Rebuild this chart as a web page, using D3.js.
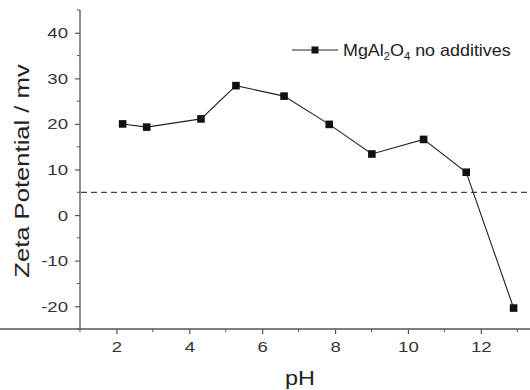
<!DOCTYPE html>
<html><head><meta charset="utf-8">
<script src="https://cdn.jsdelivr.net/npm/d3@7"></script>
<style>body{margin:0;background:#fff}svg{display:block;font-family:"Liberation Sans",Arial,sans-serif}</style>
</head><body><svg id="c" width="530" height="390"></svg>
<script>
const pH = [2.17, 2.83, 4.32, 5.28, 6.6, 7.84, 9.01, 10.43, 11.6, 12.9];
const zeta = [20.0, 19.3, 21.1, 28.4, 26.1, 19.9, 13.4, 16.6, 9.4, -20.4];
const xTicks = [2, 4, 6, 8, 10, 12];
const yTicks = [-20, -10, 0, 10, 20, 30, 40];
const refLine = 5;

const svg = d3.select("#c");
const x = d3.scaleLinear().domain([1, 13.35]).range([80, 530]);
const y = d3.scaleLinear().domain([-25, 45]).range([329, 10]);
const axisCol = "#555";

function stretch(sel, f) {
  sel.each(function () {
    const L = this.getComputedTextLength();
    d3.select(this).attr("textLength", L * f).attr("lengthAdjust", "spacingAndGlyphs");
  });
}

// minor ticks
const xMinor = d3.range(1, 14, 2);
const yMinor = d3.range(-25, 46, 10);
svg.append("g").selectAll("line").data(xMinor).join("line")
  .attr("x1", d => x(d)).attr("x2", d => x(d)).attr("y1", 329).attr("y2", 332)
  .attr("stroke", axisCol).attr("stroke-width", 1);
svg.append("g").selectAll("line").data(yMinor).join("line")
  .attr("y1", d => y(d)).attr("y2", d => y(d)).attr("x1", 80).attr("x2", 77)
  .attr("stroke", axisCol).attr("stroke-width", 1);

const fmt = d => String(d);
const xAxis = svg.append("g").attr("transform", "translate(0,329)")
  .call(d3.axisBottom(x).tickValues(xTicks).tickFormat(fmt).tickSize(5).tickPadding(7));
const yAxis = svg.append("g").attr("transform", "translate(80,0)")
  .call(d3.axisLeft(y).tickValues(yTicks).tickFormat(fmt).tickSize(5).tickPadding(7));
[xAxis, yAxis].forEach(a => {
  a.select(".domain").attr("stroke", axisCol).attr("stroke-width", 1.3);
  a.selectAll(".tick line").attr("stroke", axisCol).attr("stroke-width", 1.2);
  a.selectAll("text").attr("fill", "#333").style("font-size", "15.5px").call(stretch, 1.2);
});
yAxis.select(".domain").attr("d", "M0,10V329");
xAxis.select(".domain").attr("d", "M0,0H530");

// dashed reference line
svg.append("line").attr("x1", 81).attr("x2", 530).attr("y1", y(refLine)).attr("y2", y(refLine))
  .attr("stroke", "#444").attr("stroke-width", 1.2).attr("stroke-dasharray", "6,4");

const data = pH.map((v, i) => ({x: v, y: zeta[i]}));
svg.append("path").datum(data)
  .attr("d", d3.line().x(d => x(d.x)).y(d => y(d.y)))
  .attr("fill", "none").attr("stroke", "#222").attr("stroke-width", 1.1);
svg.append("g").selectAll("rect").data(data).join("rect")
  .attr("x", d => x(d.x) - 3.8).attr("y", d => y(d.y) - 3.8)
  .attr("width", 7.6).attr("height", 7.6).attr("fill", "#111");

// legend
const lg = svg.append("g");
lg.append("line").attr("x1", 292).attr("x2", 338).attr("y1", 50).attr("y2", 50)
  .attr("stroke", "#222").attr("stroke-width", 1.1);
lg.append("rect").attr("x", 311.5).attr("y", 46.5).attr("width", 7).attr("height", 7).attr("fill", "#111");
const lt = lg.append("text").attr("transform", "translate(343,56) scale(1.12,1)")
  .attr("fill", "#222").style("font-size", "16px");
lt.append("tspan").text("MgAl");
lt.append("tspan").attr("dy", 4).style("font-size", "10px").text("2");
lt.append("tspan").attr("dy", -4).text("O");
lt.append("tspan").attr("dy", 4).style("font-size", "10px").text("4");
lt.append("tspan").attr("dy", -4).text(" no additives");

// axis titles
svg.append("text").attr("x", 300).attr("y", 385).attr("text-anchor", "middle")
  .attr("fill", "#222").style("font-size", "19.5px").text("pH").call(stretch, 1.2);
svg.append("text").attr("transform", "translate(29,171) rotate(-90)").attr("text-anchor", "middle")
  .attr("fill", "#222").style("font-size", "20px").text("Zeta Potential / mv").call(stretch, 1.28);
</script></body></html>
